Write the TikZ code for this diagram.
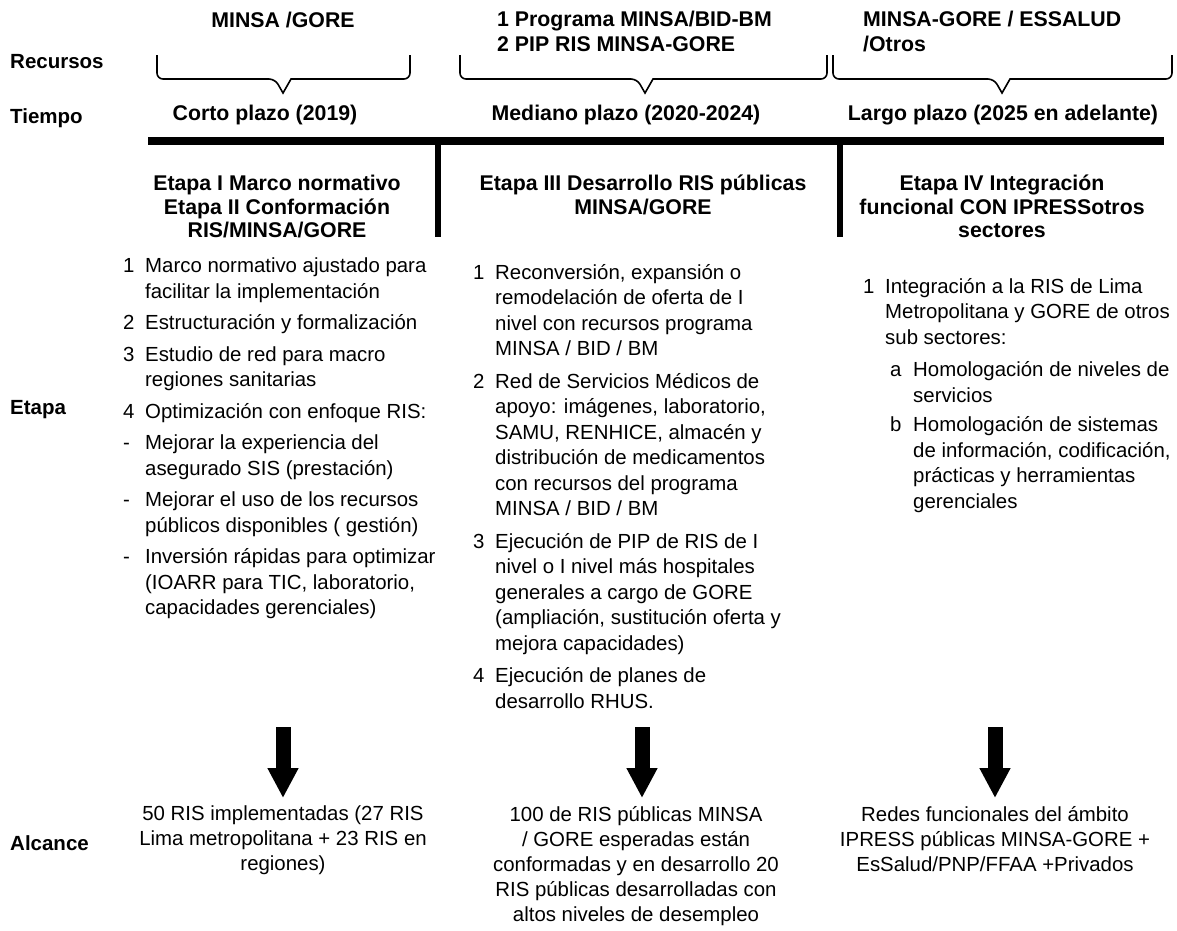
\documentclass[tikz,border=0pt]{standalone}
\usepackage{fontspec}
\setmainfont{Liberation Sans}
\usepackage{tikz}
\usetikzlibrary{arrows.meta,positioning}
\newcommand{\nr}[1]{\makebox[22pt][l]{#1}}
\newcommand{\sub}[1]{\hspace*{27pt}\makebox[23pt][l]{#1}}

\begin{document}
\begin{tikzpicture}
  [x=1pt,y=-1pt,
  rowlabel/.style={font=\bfseries\fontsize{20.5}{24}\selectfont,
    anchor=west, inner sep=0pt},
  head/.style={font=\bfseries\fontsize{21.3}{23.5}\selectfont,
    align=center, inner sep=0pt},
  listbox/.style={font=\fontsize{20.4}{25.5}\selectfont, align=left,
    anchor=north west, inner sep=0pt},
  result/.style={font=\fontsize{20.4}{25}\selectfont, align=center,
    anchor=north, inner sep=0pt},
  brace/.style={draw, line width=1.6pt},
  bar/.style={line width=8pt},
  divider/.style={line width=6pt},
  down/.style={line width=15pt,
    -{Triangle[width=29pt,length=30pt]}}]
  \useasboundingbox (0,0) rectangle (1177,930);
  % row labels
  \node[rowlabel] (recursos) at (10,62) {Recursos};
  \node[rowlabel] (tiempo) at (10,118) {Tiempo};
  \node[rowlabel] (etapa) at (10,410) {Etapa};
  \node[rowlabel] (alcance) at (10,843) {Alcance};
  % resources
  \node[head] (res1) at (283,20) {MINSA /GORE};
  \node[head, align=left, anchor=north west,
    font=\bfseries\fontsize{21.3}{25}\selectfont] (res2) at (497,11)
  {1 Programa MINSA/BID-BM\\2 PIP RIS MINSA-GORE};
  \node[head, align=left, anchor=north west,
    font=\bfseries\fontsize{21.3}{25}\selectfont] (res3) at (863,11)
  {MINSA-GORE / ESSALUD\\/Otros};
  % braces
  \draw[brace] (157,55) [rounded corners=6pt] |- (275,79) [sharp corners]
  -- (283,93) -- (291,79) [rounded corners=6pt] -| (410,55);
  \draw[brace] (460,55) [rounded corners=6pt] |- (637,79) [sharp corners]
  -- (645,93) -- (653,79) [rounded corners=6pt] -| (827,55);
  \draw[brace] (833,55) [rounded corners=6pt] |- (994,79) [sharp corners]
  -- (1002,93) -- (1010,79) [rounded corners=6pt] -| (1172,55);
  % time
  \node[head] (corto) at (265,115) {Corto plazo (2019)};
  \node[head] (mediano) at (626,115) {Mediano plazo (2020-2024)};
  \node[head] (largo) at (1003,115) {Largo plazo (2025 en adelante)};
  \draw[bar] (148,141) -- (1164,141);
  \draw[divider] (438,141) -- (438,237);
  \draw[divider] (840,141) -- (840,237);
  % stages
  \node[head, anchor=north] (et1) at (277,175)
  {Etapa I Marco normativo\\Etapa II Conformación\\RIS/MINSA/GORE};
  \node[head, anchor=north] (et2) at (643,175)
  {Etapa III Desarrollo RIS públicas\\MINSA/GORE};
  \node[head, anchor=north] (et3) at (1002,175)
  {Etapa IV Integración\\funcional CON IPRESSotros\\sectores};
  \node[listbox] (list1) at (123,258)
  {\nr{1}Marco normativo ajustado para\\
    \nr{}facilitar la implementación\\[6pt]
    \nr{2}Estructuración y formalización\\[6pt]
    \nr{3}Estudio de red para macro\\
    \nr{}regiones sanitarias\\[6pt]
    \nr{4}Optimización con enfoque RIS:\\[6pt]
    \nr{-}Mejorar la experiencia del\\
    \nr{}asegurado SIS (prestación)\\[6pt]
    \nr{-}Mejorar el uso de los recursos\\
    \nr{}públicos disponibles ( gestión)\\[6pt]
    \nr{-}Inversión rápidas para optimizar\\
    \nr{}(IOARR para TIC, laboratorio,\\
    \nr{}capacidades gerenciales)};
  \node[listbox] (list2) at (473,264)
  {\nr{1}Reconversión, expansión o\\
    \nr{}remodelación de oferta de I\\
    \nr{}nivel con recursos programa\\
    \nr{}MINSA / BID / BM\\[7pt]
    \nr{2}Red de Servicios Médicos de\\
    \nr{}apoyo: imágenes, laboratorio,\\
    \nr{}SAMU, RENHICE, almacén y\\
    \nr{}distribución de medicamentos\\
    \nr{}con recursos del programa\\
    \nr{}MINSA / BID / BM\\[7pt]
    \nr{3}Ejecución de PIP de RIS de I\\
    \nr{}nivel o I nivel más hospitales\\
    \nr{}generales a cargo de GORE\\
    \nr{}(ampliación, sustitución oferta y\\
    \nr{}mejora capacidades)\\[7pt]
    \nr{4}Ejecución de planes de\\
    \nr{}desarrollo RHUS.};
  \node[listbox] (list3) at (863,278)
  {\nr{1}Integración a la RIS de Lima\\
    \nr{}Metropolitana y GORE de otros\\
    \nr{}sub sectores:\\[7pt]
    \sub{a}Homologación de niveles de\\
    \sub{}servicios\\[4pt]
    \sub{b}Homologación de sistemas\\
    \sub{}de información, codificación,\\
    \sub{}prácticas y herramientas\\
    \sub{}gerenciales};
  % scope
  \coordinate (top1) at (283,727);
  \coordinate (top2) at (642,727);
  \coordinate (top3) at (995,727);
  \node[result] (res50) at (283,806)
  {50 RIS implementadas (27 RIS\\Lima metropolitana + 23 RIS en\\regiones)};
  \node[result] (res100) at (636,806)
  {100 de RIS públicas MINSA\\/ GORE esperadas están\\conformadas y en desarrollo 20\\
    RIS públicas desarrolladas con\\altos niveles de desempleo};
  \node[result] (resred) at (995,806)
  {Redes funcionales del ámbito\\IPRESS públicas MINSA-GORE +\\EsSalud/PNP/FFAA +Privados};
  \draw[down] (top1) -- ([yshift=8pt]res50.north);
  \draw[down] (top2) -- ([yshift=8pt]res100.north -| top2);
  \draw[down] (top3) -- ([yshift=8pt]resred.north);
\end{tikzpicture}
\end{document}
